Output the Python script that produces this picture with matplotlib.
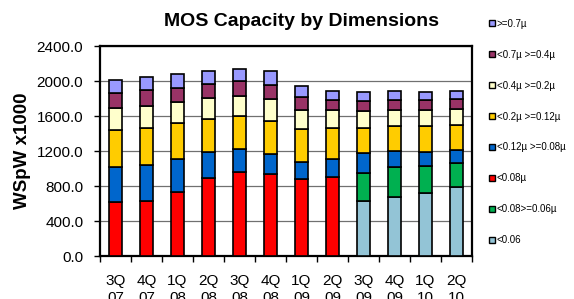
import numpy as np
import matplotlib.pyplot as plt
from matplotlib.lines import Line2D
from matplotlib.ticker import FuncFormatter

plt.rcParams['font.family'] = ['Liberation Sans', 'DejaVu Sans']

quarters = ["3Q\n07", "4Q\n07", "1Q\n08", "2Q\n08", "3Q\n08", "4Q\n08",
            "1Q\n09", "2Q\n09", "3Q\n09", "4Q\n09", "1Q\n10", "2Q\n10"]

# stacked from bottom to top
lt_006 = [0, 0, 0, 0, 0, 0, 0, 0, 629, 670, 716, 792]
lt_008_ge_006 = [0, 0, 0, 0, 0, 0, 0, 0, 323, 351, 313, 267]
lt_008 = [620, 633, 726, 891, 964, 935, 880, 899, 0, 0, 0, 0]
lt_012 = [395, 405, 381, 292, 256, 233, 194, 206, 229, 179, 163, 152]
lt_02 = [421, 428, 409, 387, 380, 373, 374, 354, 286, 286, 294, 286]
lt_04 = [255, 248, 244, 232, 229, 253, 221, 206, 190, 183, 179, 179]
lt_07 = [168, 183, 160, 164, 167, 164, 144, 114, 118, 114, 114, 114]
ge_07 = [156, 149, 156, 152, 141, 156, 130, 111, 103, 103, 99, 100]

series = [
    ("<0.06", lt_006, "#93C4D6"),
    ("<0.08>=0.06\u00b5", lt_008_ge_006, "#00B050"),
    ("<0.08\u00b5", lt_008, "#FF0000"),
    ("<0.12\u00b5 >=0.08\u00b5", lt_012, "#0066CC"),
    ("<0.2\u00b5 >=0.12\u00b5", lt_02, "#FFCC00"),
    ("<0.4\u00b5 >=0.2\u00b5", lt_04, "#FFFFCC"),
    ("<0.7\u00b5 >=0.4\u00b5", lt_07, "#993366"),
    (">=0.7\u00b5", ge_07, "#9999FF"),
]

fig = plt.figure(figsize=(5.74, 2.99), dpi=100)
ax = fig.add_axes([0.1742, 0.1438, 0.6481, 0.7023])

x = np.arange(len(quarters))
bottom = np.zeros(len(quarters))
handles = []
for label, vals, color in series:
    vals = np.array(vals, dtype=float)
    ax.bar(x, vals, width=0.42, bottom=bottom, color=color,
           edgecolor="black", linewidth=1.2, zorder=3)
    bottom += vals
    handles.append(Line2D([], [], marker="s", linestyle="none", markersize=4.5,
                          markerfacecolor=color, markeredgecolor="black",
                          markeredgewidth=1.0, label=label))

ax.set_xlim(-0.5, len(quarters) - 0.5)
ax.set_ylim(0, 2400)
ax.set_yticks(np.arange(0, 2401, 400))
ax.yaxis.set_major_formatter(FuncFormatter(lambda v, p: f"{v:.1f}"))
ax.yaxis.grid(True, color="#707070", linewidth=0.9, zorder=0)

ax.set_xticks(x)
ax.set_xticklabels(quarters, linespacing=1.25)
ax.set_xticks(np.arange(-0.5, len(quarters), 1), minor=True)
ax.tick_params(axis="x", which="major", length=0, pad=13, labelsize=11)
ax.tick_params(axis="x", which="minor", length=4, width=1, direction="out")
ax.tick_params(axis="y", length=4, width=1, direction="out", pad=8, labelsize=11)

for side in ["left", "bottom", "top", "right"]:
    ax.spines[side].set_linewidth(1.6)

ax.set_ylabel("WSpW x1000", fontsize=13.5, fontweight="bold", labelpad=4)
fig.text(0.526, 0.928, "MOS Capacity by Dimensions", fontsize=14,
         fontweight="bold", ha="center", va="center")

fig.legend(handles=handles[::-1], loc="upper left",
           bbox_to_anchor=(0.843, 0.95), frameon=False, fontsize=7,
           labelspacing=2.15, handletextpad=0.1, handlelength=0.8,
           borderaxespad=0)

fig.savefig("out.png", dpi=100)
